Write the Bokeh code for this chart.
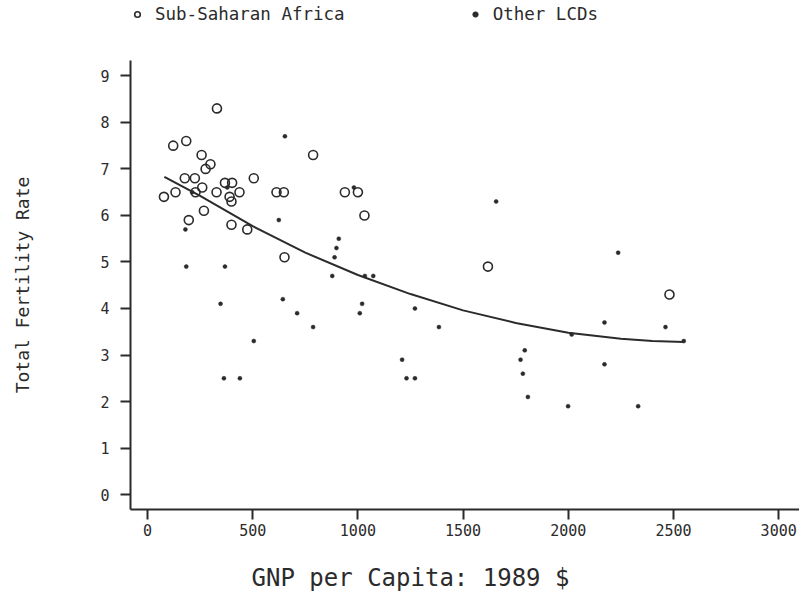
from bokeh.plotting import figure
from bokeh.layouts import column
from bokeh.models import Range1d, Legend, LegendItem, Label, FixedTicker
from bokeh.embed import file_html
from bokeh.resources import INLINE

# Sub-Saharan Africa (GNP per capita 1989 $, total fertility rate)
ssa_gnp = [78, 122, 133, 177, 184, 196, 225, 228, 257, 260, 268, 276, 299, 328, 330, 368,
           390, 399, 399, 402, 437, 474, 505, 613, 648, 651, 787, 938, 1000, 1031, 1618, 2481]
ssa_tfr = [6.4, 7.5, 6.5, 6.8, 7.6, 5.9, 6.8, 6.5, 7.3, 6.6, 6.1, 7.0, 7.1, 6.5, 8.3, 6.7,
           6.4, 6.3, 5.8, 6.7, 6.5, 5.7, 6.8, 6.5, 6.5, 5.1, 7.3, 6.5, 6.5, 6.0, 4.9, 4.3]

# Other LCDs
lcd_gnp = [180, 184, 212, 347, 363, 368, 379, 439, 505, 624, 643, 653, 711, 787, 878, 889,
           898, 909, 981, 1009, 1020, 1033, 1073, 1210, 1231, 1271, 1271, 1385, 1657, 1773,
           1784, 1793, 1808, 1999, 2016, 2172, 2172, 2237, 2332, 2462, 2549]
lcd_tfr = [5.7, 4.9, 6.5, 4.1, 2.5, 4.9, 6.6, 2.5, 3.3, 5.9, 4.2, 7.7, 3.9, 3.6, 4.7, 5.1,
           5.3, 5.5, 6.6, 3.9, 4.1, 4.7, 4.7, 2.9, 2.5, 4.0, 2.5, 3.6, 6.3, 2.9,
           2.6, 3.1, 2.1, 1.9, 3.44, 3.7, 2.8, 5.2, 1.9, 3.6, 3.3]

# Fitted curve
fit_gnp = [80, 250, 500, 750, 1000, 1250, 1500, 1750, 2000, 2250, 2400, 2550]
fit_tfr = [6.83, 6.42, 5.77, 5.2, 4.72, 4.31, 3.96, 3.69, 3.48, 3.35, 3.30, 3.28]

series_names = ["Sub-Saharan Africa", "Other LCDs"]
x_ticks = [0, 500, 1000, 1500, 2000, 2500, 3000]
y_ticks = [0, 1, 2, 3, 4, 5, 6, 7, 8, 9]
x_title = "GNP per Capita: 1989 $"
y_title = "Total Fertility Rate"

INK = "#2b2b2b"
MONO = "DejaVu Sans Mono"
CIRCLE = dict(marker="circle", size=9, fill_color=None, line_color=INK, line_width=1.6)
DOT = dict(marker="circle", size=4, fill_color=INK, line_color=INK, line_width=0.5)

x_range = Range1d(-81, 3099)


def strip(height):
    f = figure(width=799, height=height, output_backend="svg", toolbar_location=None,
               x_axis_location=None, y_axis_location=None,
               x_range=x_range, y_range=Range1d(0, 1),
               min_border_left=130, min_border_right=0, min_border_top=0, min_border_bottom=0)
    f.outline_line_color = None
    f.background_fill_color = "white"
    f.border_fill_color = "white"
    for g in f.grid:
        g.visible = False
        g.grid_line_color = None
    return f


# ---- legend strip (top); the series lie above this strip's 0-1 range, so only the
# ---- legend swatches are visible here
top = strip(60)
l_ssa = top.scatter(ssa_gnp, ssa_tfr, **CIRCLE)
l_lcd = top.scatter(lcd_gnp, lcd_tfr, **DOT)
legend = Legend(items=[LegendItem(label=series_names[0], renderers=[l_ssa]),
                       LegendItem(label=series_names[1], renderers=[l_lcd])],
                orientation="horizontal", location="top_left",
                margin=0, padding=0, spacing=123, glyph_width=14, glyph_height=28,
                label_standoff=11, label_text_font=MONO, label_text_font_size="17.5px",
                label_text_color=INK, border_line_color=None, background_fill_alpha=0)
top.add_layout(legend, "center")

# ---- main plot
p = figure(width=799, height=485, output_backend="svg", toolbar_location=None,
           x_range=x_range, y_range=Range1d(-0.32, 9.33),
           min_border_left=130, min_border_right=0, min_border_top=0, min_border_bottom=36)
p.outline_line_color = None
p.xgrid.visible = False
p.ygrid.visible = False
p.background_fill_color = "white"
p.border_fill_color = "white"

for ax in (p.xaxis[0], p.yaxis[0]):
    ax.axis_line_color = INK
    ax.axis_line_width = 2
    ax.major_tick_line_color = INK
    ax.major_tick_line_width = 2
    ax.major_tick_in = 0
    ax.major_tick_out = 10
    ax.minor_tick_line_color = None
    ax.major_label_text_font = MONO
    ax.major_label_text_font_size = "15px"
    ax.major_label_text_color = INK

p.xaxis[0].ticker = FixedTicker(ticks=x_ticks)
p.yaxis[0].ticker = FixedTicker(ticks=y_ticks)
p.xaxis[0].major_label_standoff = 4
p.yaxis[0].major_label_standoff = 11
p.yaxis[0].axis_label = y_title
p.yaxis[0].axis_label_text_font = MONO
p.yaxis[0].axis_label_text_font_size = "18px"
p.yaxis[0].axis_label_text_font_style = "normal"
p.yaxis[0].axis_label_text_color = INK
p.yaxis[0].axis_label_standoff = 64

p.line(fit_gnp, fit_tfr, line_color=INK, line_width=2)
p.scatter(ssa_gnp, ssa_tfr, **CIRCLE)
p.scatter(lcd_gnp, lcd_tfr, **DOT)

# ---- x-axis title strip (bottom)
bottom = strip(47)
bottom.add_layout(Label(x=1250, y=0.3, text=x_title, text_font=MONO, text_font_size="24px",
                        text_color=INK, text_align="center", text_baseline="middle"))

layout = column(top, p, bottom, spacing=0)
open("out.html", "w").write(file_html(layout, INLINE))
